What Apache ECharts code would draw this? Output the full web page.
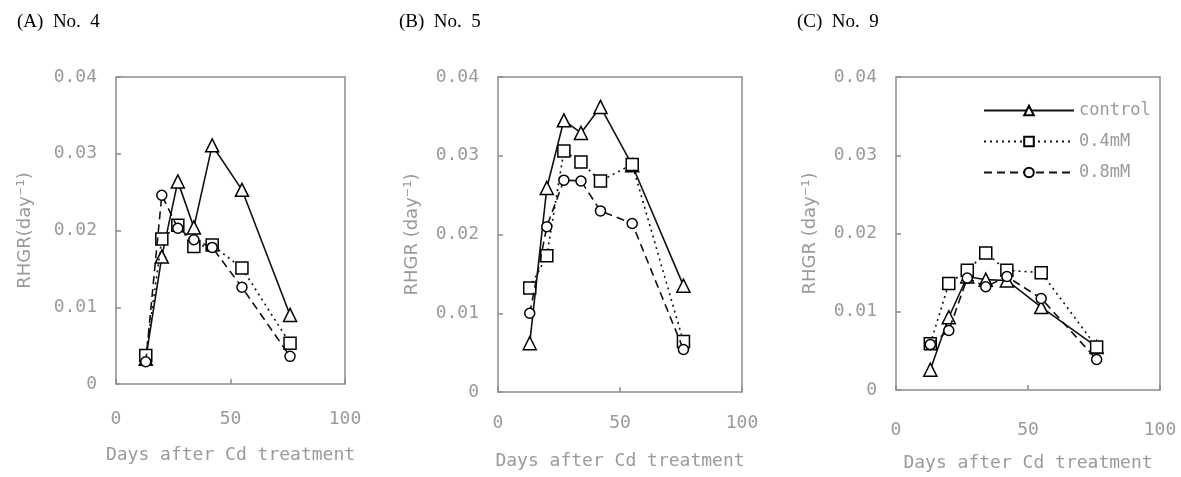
<!DOCTYPE html>
<html>
<head>
<meta charset="utf-8">
<title>RHGR</title>
<script src="https://cdn.jsdelivr.net/npm/echarts@6/dist/echarts.min.js"></script>
<style>
    html, body { margin: 0; padding: 0; background: #fff; }
    #main { width: 1181px; height: 477px; }
</style>
</head>
<body>
<div id="main"></div>
<script>
// 处理后天数
var days = [13, 20, 27, 34, 42, 55, 76];
var seriesNames = ['control', '0.4mM', '0.8mM'];
var panelTitles = ['(A)  No.  4', '(B)  No.  5', '(C)  No.  9'];
var yNames = ['RHGR(day\u207B\u00B9)', 'RHGR (day\u207B\u00B9)', 'RHGR (day\u207B\u00B9)'];
var xTicks = [0, 50, 100];
var yTicks = [0, 0.01, 0.02, 0.03, 0.04];

// (A) No. 4
var a_control = [0.0033, 0.0166, 0.0264, 0.0204, 0.0311, 0.0253, 0.0090];
var a_04 = [0.0037, 0.0189, 0.0207, 0.0179, 0.0181, 0.0151, 0.0053];
var a_08 = [0.0029, 0.0246, 0.0203, 0.0188, 0.0178, 0.0126, 0.0036];
// (B) No. 5
var b_control = [0.0062, 0.0259, 0.0345, 0.0329, 0.0362, 0.0288, 0.0135];
var b_04 = [0.0132, 0.0173, 0.0306, 0.0292, 0.0268, 0.0289, 0.0064];
var b_08 = [0.0100, 0.0210, 0.0269, 0.0268, 0.0230, 0.0214, 0.0054];
// (C) No. 9
var c_control = [0.0026, 0.0093, 0.0145, 0.0141, 0.0140, 0.0106, 0.0055];
var c_04 = [0.0059, 0.0136, 0.0153, 0.0175, 0.0153, 0.0150, 0.0055];
var c_08 = [0.0058, 0.0076, 0.0143, 0.0132, 0.0145, 0.0117, 0.0039];

var panelData = [
    [a_control, a_04, a_08],
    [b_control, b_04, b_08],
    [c_control, c_04, c_08]
];

// 每个小图的位置
var grids = [
    {left: 116, top: 77, width: 229, height: 307},
    {left: 498, top: 77, width: 244, height: 315},
    {left: 896, top: 77, width: 264, height: 320}
];
var titleLeft = [12, 394, 792];
var xLabelMargin = [26, 22, 31];
var xNameGap = [62, 60, 64];
var yNameGap = [82, 77, 77];

var symbols = ['triangle', 'rect', 'circle'];
var symbolSizes = [13, 12, 10];
var lineTypes = ['solid', [2, 4], [8, 5]];

var grayText = '#9a9a9a';
var font = 'DejaVu Sans';
var monoFont = 'DejaVu Sans Mono';

function pairs(xs, ys) {
    var out = [];
    for (var i = 0; i < xs.length; i++) {
        out.push([xs[i], ys[i]]);
    }
    return out;
}

var title = [], grid = [], xAxis = [], yAxis = [], series = [];

for (var p = 0; p < 3; p++) {
    title.push({
        text: panelTitles[p],
        left: titleLeft[p],
        top: 8,
        textStyle: {fontFamily: 'Liberation Serif', fontSize: 19, fontWeight: 'normal', color: '#000'}
    });
    grid.push({
        left: grids[p].left, top: grids[p].top, width: grids[p].width, height: grids[p].height,
        show: true, borderColor: '#8c8c8c', borderWidth: 1.5, backgroundColor: 'transparent'
    });
    xAxis.push({
        type: 'value', gridIndex: p,
        min: xTicks[0], max: xTicks[xTicks.length - 1], interval: 50,
        name: 'Days after Cd treatment', nameLocation: 'middle', nameGap: xNameGap[p],
        nameTextStyle: {fontFamily: monoFont, fontSize: 18, color: grayText},
        axisLine: {show: false},
        axisTick: {show: true, inside: true, length: 5, lineStyle: {color: '#8c8c8c', width: 1.5}},
        axisLabel: {margin: xLabelMargin[p], fontFamily: monoFont, fontSize: 18, color: grayText},
        splitLine: {show: false}
    });
    yAxis.push({
        type: 'value', gridIndex: p,
        min: yTicks[0], max: yTicks[yTicks.length - 1], interval: 0.01,
        name: yNames[p], nameLocation: 'middle', nameGap: yNameGap[p],
        nameTextStyle: {fontFamily: font, fontSize: 18, color: grayText},
        axisLine: {show: false},
        axisTick: {show: true, inside: true, length: 5, lineStyle: {color: '#8c8c8c', width: 1.5}},
        axisLabel: {
            margin: 19, fontFamily: monoFont, fontSize: 18, color: grayText,
            formatter: function (v) { return v === 0 ? '0' : v.toFixed(2); }
        },
        splitLine: {show: false}
    });
    for (var s = 0; s < 3; s++) {
        series.push({
            name: seriesNames[s],
            type: 'line',
            xAxisIndex: p, yAxisIndex: p,
            data: pairs(days, panelData[p][s]),
            symbol: symbols[s],
            symbolSize: symbolSizes[s],
            showAllSymbol: true,
            itemStyle: {color: '#fff', borderColor: '#000', borderWidth: 1.5},
            lineStyle: {color: '#111', width: 1.6, type: lineTypes[s]},
            emphasis: {disabled: true},
            animation: false,
            z: 2 + s
        });
    }
}

// 基于准备好的dom，初始化echarts实例
var myChart = echarts.init(document.getElementById('main'));

var option = {
    backgroundColor: '#fff',
    animation: false,
    title: title,
    legend: {
        data: seriesNames,
        orient: 'vertical',
        left: 978, top: 97,
        itemWidth: 90, itemHeight: 12, itemGap: 14,
        textStyle: {fontFamily: monoFont, fontSize: 17, color: grayText},
        selectedMode: false
    },
    grid: grid,
    xAxis: xAxis,
    yAxis: yAxis,
    series: series
};
// 使用刚指定的配置项和数据显示图表。
myChart.setOption(option);
</script>
</body>
</html>
